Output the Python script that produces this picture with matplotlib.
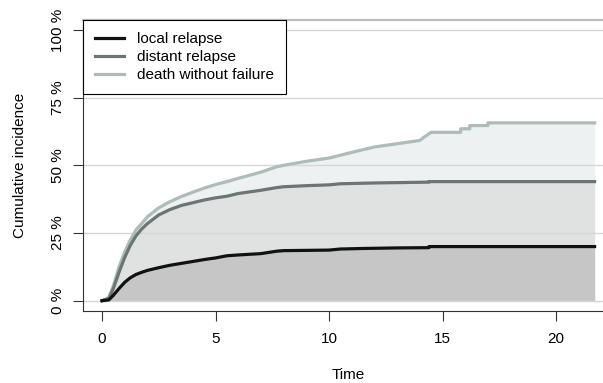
import matplotlib
matplotlib.use("Agg")
import matplotlib.pyplot as plt

plt.rcParams['font.family'] = ['Liberation Sans', 'DejaVu Sans']

# stacked cumulative incidence curves (percent), read as step-like curves
t_local = [0, 0.3, 0.5, 0.75, 1.0, 1.25, 1.5, 1.75, 2.0, 2.5, 3.0, 3.5, 4.0, 4.5,
           5.0, 5.5, 6.0, 7.0, 7.7, 8.0, 9.0, 10.0, 10.5, 11.5, 13.0, 14.4, 14.4, 21.7]
ci_local = [0, 0.3, 2.0, 4.5, 6.8, 8.5, 9.7, 10.5, 11.2, 12.2, 13.1, 13.8, 14.5, 15.2,
            15.8, 16.6, 16.9, 17.4, 18.3, 18.5, 18.6, 18.7, 19.1, 19.3, 19.5, 19.6, 20.0, 20.0]

t_distant = [0, 0.3, 0.5, 0.75, 1.0, 1.25, 1.5, 1.75, 2.0, 2.5, 3.0, 3.5, 4.0, 4.5,
             5.0, 5.5, 6.0, 7.0, 7.7, 8.0, 9.0, 10.0, 10.5, 12.0, 14.4, 14.4, 21.7]
ci_distant = [0, 0.8, 4.5, 10.5, 16.0, 20.5, 24.0, 26.5, 28.5, 31.7, 33.7, 35.2, 36.2, 37.2,
              38.0, 38.6, 39.6, 40.8, 41.8, 42.1, 42.5, 42.8, 43.2, 43.5, 43.8, 44.0, 44.0]

t_death = [0, 0.3, 0.5, 0.75, 1.0, 1.25, 1.5, 1.75, 2.0, 2.5, 3.0, 3.5, 4.0, 4.5,
           5.0, 5.5, 6.0, 7.0, 7.7, 8.0, 9.0, 10.0, 11.0, 12.0, 13.0, 14.0, 14.2, 14.5,
           15.8, 15.8, 16.2, 16.2, 17.0, 17.0, 21.7]
ci_death = [0, 1.2, 5.5, 12.5, 18.0, 22.5, 26.2, 28.5, 31.0, 34.3, 36.6, 38.5, 40.1, 41.6,
            42.9, 44.0, 45.2, 47.5, 49.5, 50.0, 51.5, 52.7, 54.8, 56.8, 58.0, 59.2, 60.5, 62.2,
            62.2, 63.5, 63.5, 64.7, 64.7, 65.7, 65.7]

labels = ['local relapse', 'distant relapse', 'death without failure']
line_cols = ['#111111', '#6d7474', '#adbcb9']
fill_cols = ['#c6c6c6', '#e0e1e1', '#eef1f2']
y_ticks = [0, 25, 50, 75, 100]
x_ticks = [0, 5, 10, 15, 20]

fig = plt.figure(figsize=(6.03, 3.83), dpi=100)
ax = fig.add_axes([83 / 603, 1 - 311 / 383, 1 - 83 / 603, 291 / 383])

# fills, top layer first so lower ones sit on it
ax.fill_between(t_death, 0, ci_death, color=fill_cols[2], lw=0, zorder=1)
ax.fill_between(t_distant, 0, ci_distant, color=fill_cols[1], lw=0, zorder=1)
ax.fill_between(t_local, 0, ci_local, color=fill_cols[0], lw=0, zorder=1)

for y in y_ticks:
    ax.axhline(y, color='#d6d6d6', lw=1, zorder=2)

ax.plot(t_local, ci_local, color=line_cols[0], lw=2.3, label=labels[0], zorder=5)
ax.plot(t_distant, ci_distant, color=line_cols[1], lw=2.3, label=labels[1], zorder=4)
ax.plot(t_death, ci_death, color=line_cols[2], lw=2.3, label=labels[2], zorder=3)

ax.set_xlim(-0.837, 22.07)
ax.set_ylim(-3.8, 103.7)
ax.set_xticks(x_ticks)
ax.set_yticks(y_ticks)
ax.set_yticklabels([f'{v} %' for v in y_ticks], rotation=90, va='center')
ax.tick_params(axis='both', length=7, width=0.8, color='#333333', labelsize=11, pad=6)
ax.tick_params(axis='x', pad=8)

ax.spines['right'].set_visible(False)
ax.spines['top'].set_color('#bdbdbd')
ax.spines['top'].set_linewidth(1.6)
for s in ['left', 'bottom']:
    ax.spines[s].set_color('#333333')
    ax.spines[s].set_linewidth(0.8)

ax.set_xlabel('Time', fontsize=11, labelpad=16)
ax.xaxis.label.set_x(0.51)
ax.set_ylabel('Cumulative incidence', fontsize=11, labelpad=17)

leg = ax.legend(loc='upper left', bbox_to_anchor=(0, 1), borderaxespad=0, fontsize=11,
                frameon=True, fancybox=False, edgecolor='black', framealpha=1,
                handlelength=1.9, handletextpad=0.85, labelspacing=0.25, borderpad=0.8)
leg.get_frame().set_linewidth(0.8)
leg.set_zorder(10)

fig.savefig('out.png', dpi=100)
